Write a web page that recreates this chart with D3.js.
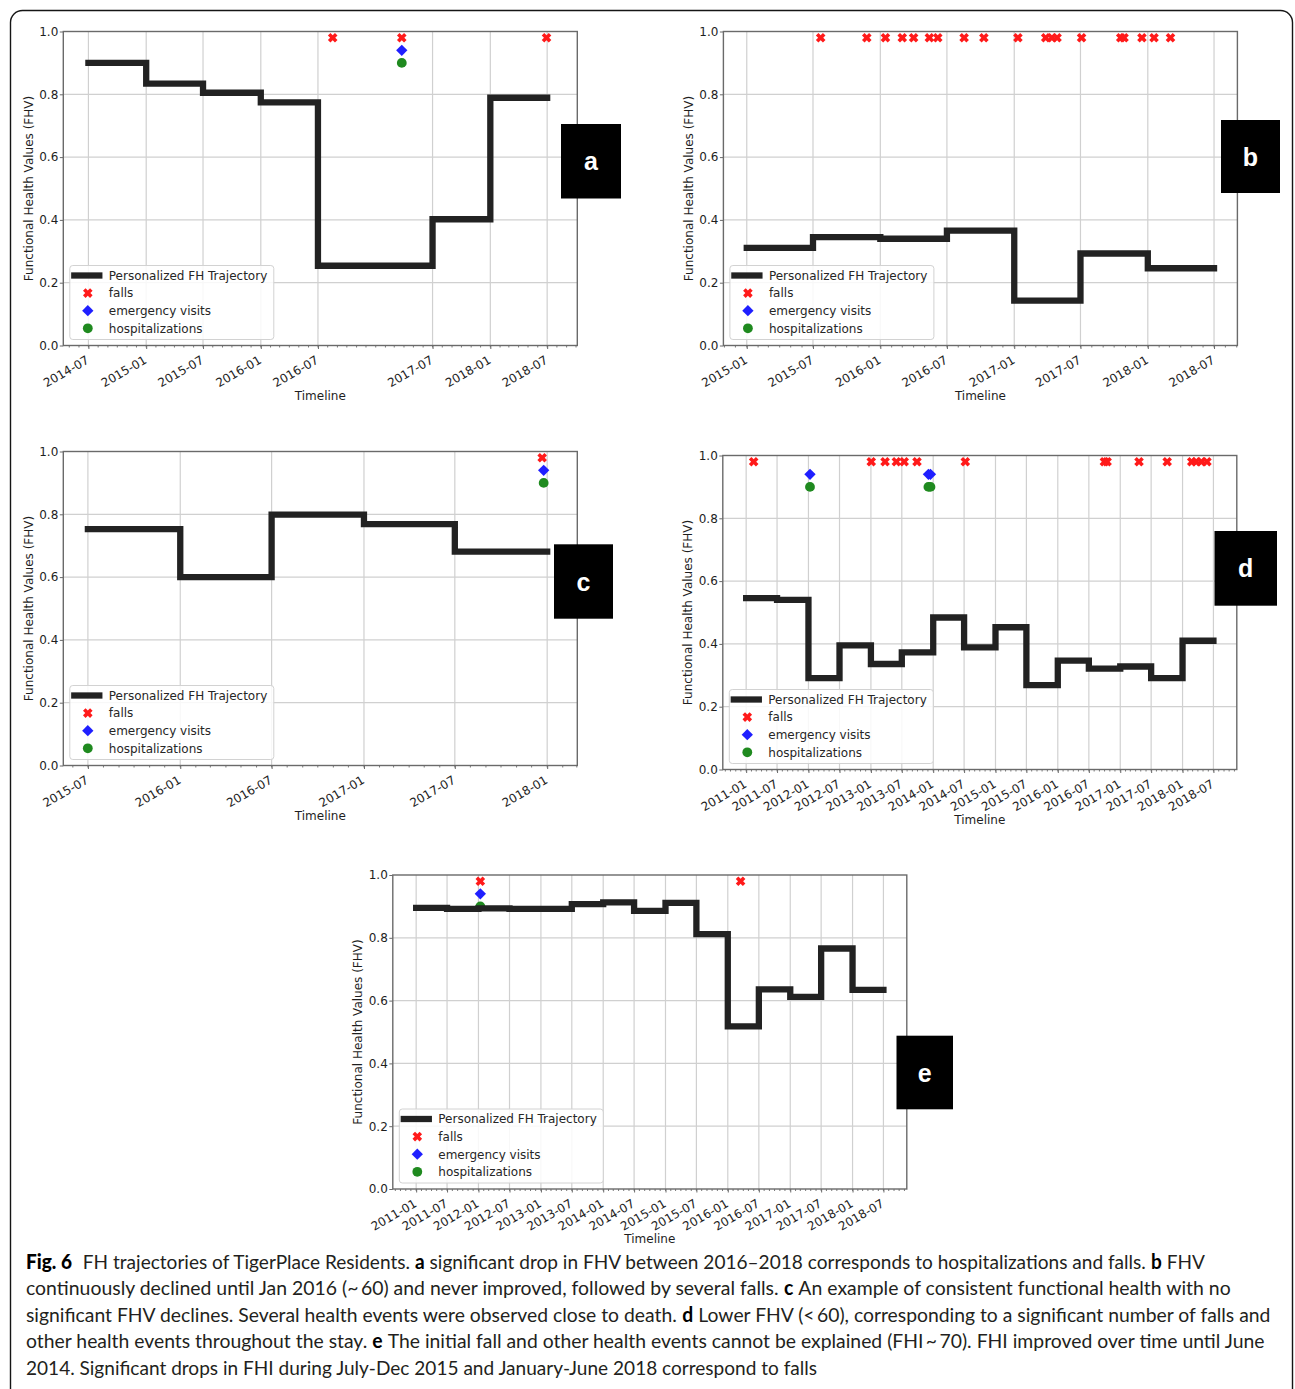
<!DOCTYPE html>
<html>
<head>
<meta charset="utf-8">
<script src="https://cdn.jsdelivr.net/npm/d3@7"></script>
<style>
  html, body { margin: 0; padding: 0; background: #fff; }
  svg { display: block; }
</style>
</head>
<body>
<svg id="fig" width="1295" height="1389"></svg>
<script>
// ---------------- data ----------------
// Panel a
const aStepDates = ["2014-07-01","2015-01-01","2015-07-01","2016-01-01","2016-07-01","2017-07-01","2018-01-01","2018-07-01"];
const aFHV       = [0.900, 0.834, 0.805, 0.774, 0.254, 0.402, 0.789, 0.789];
const aFalls     = ["2016-08-17","2017-03-25","2018-06-29"];
const aEmergency = ["2017-03-25"];
const aHospital  = ["2017-03-25"];
const aTicks     = ["2014-07","2015-01","2015-07","2016-01","2016-07","2017-07","2018-01","2018-07"];

// Panel b
const bStepDates = ["2015-01-01","2015-07-01","2016-01-01","2016-07-01","2017-01-01","2017-07-01","2018-01-01","2018-07-01"];
const bFHV       = [0.311, 0.345, 0.340, 0.366, 0.143, 0.293, 0.246, 0.246];
const bFalls     = ["2015-07-22","2015-11-25","2016-01-15","2016-03-01","2016-04-01","2016-05-14","2016-06-06",
                    "2016-08-17","2016-10-10","2017-01-11","2017-03-28","2017-04-14","2017-04-28","2017-07-04",
                    "2017-10-19","2017-10-28","2017-12-16","2018-01-18","2018-03-04"];
const bEmergency = [];
const bHospital  = [];
const bTicks     = ["2015-01","2015-07","2016-01","2016-07","2017-01","2017-07","2018-01","2018-07"];

// Panel c
const cStepDates = ["2015-07-01","2016-01-01","2016-07-01","2017-01-01","2017-07-01","2018-01-01"];
const cFHV       = [0.753, 0.600, 0.799, 0.769, 0.681, 0.681];
const cFalls     = ["2017-12-22"];
const cEmergency = ["2017-12-25"];
const cHospital  = ["2017-12-25"];
const cTicks     = ["2015-07","2016-01","2016-07","2017-01","2017-07","2018-01"];

// Panel d
const dStepDates = ["2011-01-01","2011-07-01","2012-01-01","2012-07-01","2013-01-01","2013-07-01","2014-01-01","2014-07-01",
                    "2015-01-01","2015-07-01","2016-01-01","2016-07-01","2017-01-01","2017-07-01","2018-01-01","2018-07-01"];
const dFHV       = [0.546, 0.540, 0.291, 0.395, 0.336, 0.373, 0.484, 0.389, 0.453, 0.269, 0.347, 0.321, 0.328, 0.291, 0.410, 0.410];
const dFalls     = ["2011-02-14","2013-01-03","2013-03-25","2013-05-30","2013-07-15","2013-09-28","2014-07-08",
                    "2016-09-30","2016-10-16","2017-04-21","2017-10-03","2018-02-24","2018-03-21","2018-04-21","2018-05-24"];
const dEmergency = ["2012-01-10","2013-12-04","2013-12-16"];
const dHospital  = ["2012-01-10","2013-12-04","2013-12-16"];
const dTicks     = ["2011-01","2011-07","2012-01","2012-07","2013-01","2013-07","2014-01","2014-07",
                    "2015-01","2015-07","2016-01","2016-07","2017-01","2017-07","2018-01","2018-07"];

// Panel e
const eStepDates = dStepDates.slice();
const eFHV       = [0.895, 0.892, 0.894, 0.892, 0.892, 0.907, 0.913, 0.886, 0.911, 0.812, 0.518, 0.636, 0.612, 0.766, 0.634, 0.634];
const eFalls     = ["2012-01-12","2016-03-16"];
const eEmergency = ["2012-01-12"];
const eHospital  = ["2012-01-12"];
const eTicks     = dTicks.slice();

// event rows drawn near the top of each axes: falls, emergency visits, hospitalizations
const eventLevels  = [0.98, 0.94, 0.90];
const yTickValues  = [0.0, 0.2, 0.4, 0.6, 0.8, 1.0];
const legendLabels = ["Personalized FH Trajectory", "falls", "emergency visits", "hospitalizations"];

// caption, one entry per printed line: runs of [text, style], separated by word spaces
const captionLines = [
  [["Fig. 6", "fig"], ["FH trajectories of TigerPlace Residents.", ""], ["a", "b"],
   ["significant drop in FHV between 2016\u20132018 corresponds to hospitalizations and falls.", ""], ["b", "b"], ["FHV", ""]],
  [["continuously declined until Jan 2016 (~\u200960) and never improved, followed by several falls.", ""], ["c", "b"],
   ["An example of consistent functional health with no", ""]],
  [["significant FHV declines. Several health events were observed close to death.", ""], ["d", "b"],
   ["Lower FHV (<\u200960), corresponding to a significant number of falls and", ""]],
  [["other health events throughout the stay.", ""], ["e", "b"],
   ["The initial fall and other health events cannot be explained (FHI\u2009~\u200970). FHI improved over time until June", ""]],
  [["2014. Significant drops in FHI during July-Dec 2015 and January-June 2018 correspond to falls", ""]]
];

// ---------------- layout ----------------
// xDomain (optional) fixes the visible time window; otherwise the data extent gets a 5% margin.
const panels = [
  { letter: "a", steps: aStepDates, fhv: aFHV, falls: aFalls, er: aEmergency, hosp: aHospital, ticks: aTicks,
    xDomain: ["2014-04-12", "2018-10-05"],
    frame: { left: 63.3, top: 31.5, width: 514, height: 314 }, box: { x: 561, y: 124, w: 60, h: 74.5 } },
  { letter: "b", steps: bStepDates, fhv: bFHV, falls: bFalls, er: bEmergency, hosp: bHospital, ticks: bTicks,
    frame: { left: 723.4, top: 31.5, width: 514, height: 314 }, box: { x: 1221, y: 120, w: 59, h: 73 } },
  { letter: "c", steps: cStepDates, fhv: cFHV, falls: cFalls, er: cEmergency, hosp: cHospital, ticks: cTicks,
    xDomain: ["2015-05-13", "2018-03-02"],
    frame: { left: 63.3, top: 451.5, width: 514, height: 314 }, box: { x: 554, y: 544.3, w: 59, h: 74.4 } },
  { letter: "d", steps: dStepDates, fhv: dFHV, falls: dFalls, er: dEmergency, hosp: dHospital, ticks: dTicks,
    frame: { left: 722.8, top: 455.5, width: 514, height: 314 }, box: { x: 1214.5, y: 531, w: 62.5, h: 74.7 } },
  { letter: "e", steps: eStepDates, fhv: eFHV, falls: eFalls, er: eEmergency, hosp: eHospital, ticks: eTicks,
    frame: { left: 392.8, top: 875, width: 514, height: 314 }, box: { x: 896.5, y: 1035.7, w: 56.5, h: 73.6 } }
];

const COLORS = { line: "#222222", fall: "#ff1a1a", er: "#1f1fff", hosp: "#1f8a1f",
                 grid: "#d0d0d0", spine: "#6a6a6a", text: "#1e1e1e" };
const FONT = "'DejaVu Sans', sans-serif";

const parseDay   = d3.utcParse("%Y-%m-%d");
const parseMonth = d3.utcParse("%Y-%m");
const fmtMonth   = d3.utcFormat("%Y-%m");

const svg = d3.select("#fig");

// outer rounded frame (open at the bottom, runs past the page)
svg.append("path")
  .attr("d", "M10.5,1420 V22.5 A12,12 0 0 1 22.5,10.5 H1280.5 A12,12 0 0 1 1292.5,22.5 V1420")
  .attr("fill", "none").attr("stroke", "#151515").attr("stroke-width", 1.4);

// filled "X" marker: a plus sign with thick arms, turned 45 degrees
function filledX(L, h) {
  const p = [[-h,-L],[h,-L],[h,-h],[L,-h],[L,h],[h,h],[h,L],[-h,L],[-h,h],[-L,h],[-L,-h],[-h,-h]];
  return "M" + p.map(q => q.join(",")).join("L") + "Z";
}
const fallSym = filledX(5.0, 1.8);
const erSym   = d3.symbol().type(d3.symbolSquare).size(64)();
const hospR   = 4.9;

function drawFall(sel, cx, cy) {
  sel.append("path").attr("d", fallSym)
    .attr("transform", `translate(${cx},${cy}) rotate(45)`).attr("fill", COLORS.fall);
}
function drawER(sel, cx, cy) {
  sel.append("path").attr("d", erSym)
    .attr("transform", `translate(${cx},${cy}) rotate(45)`).attr("fill", COLORS.er);
}
function drawHosp(sel, cx, cy) {
  sel.append("circle").attr("cx", cx).attr("cy", cy).attr("r", hospR).attr("fill", COLORS.hosp);
}

function drawPanel(p) {
  const f = p.frame;
  const g = svg.append("g").attr("class", "panel-" + p.letter);

  const stepDates = p.steps.map(parseDay);
  const falls = p.falls.map(parseDay), er = p.er.map(parseDay), hosp = p.hosp.map(parseDay);
  let domain;
  if (p.xDomain) {
    domain = p.xDomain.map(parseDay);
  } else {
    const [t0, t1] = d3.extent(stepDates.concat(falls, er, hosp));
    const pad = (t1 - t0) * 0.05;
    domain = [new Date(+t0 - pad), new Date(+t1 + pad)];
  }
  const x = d3.scaleUtc().domain(domain).range([f.left, f.left + f.width]);
  const y = d3.scaleLinear().domain([0, 1]).range([f.top + f.height, f.top]);
  const ticks = p.ticks.map(parseMonth);
  const bottom = f.top + f.height;

  // grid
  const grid = g.append("g").attr("stroke", COLORS.grid).attr("stroke-width", 1.2);
  grid.selectAll("line.gx").data(ticks).join("line").attr("class", "gx")
    .attr("x1", d => x(d)).attr("x2", d => x(d)).attr("y1", f.top).attr("y2", bottom);
  grid.selectAll("line.gy").data(yTickValues.slice(1, -1)).join("line").attr("class", "gy")
    .attr("y1", d => y(d)).attr("y2", d => y(d)).attr("x1", f.left).attr("x2", f.left + f.width);

  // event markers (drawn under the trajectory line)
  const ev = g.append("g");
  falls.forEach(d => drawFall(ev, x(d), y(eventLevels[0])));
  er.forEach(d => drawER(ev, x(d), y(eventLevels[1])));
  hosp.forEach(d => drawHosp(ev, x(d), y(eventLevels[2])));

  // functional-health step trajectory
  const pts = stepDates.map((d, i) => ({ date: d, v: p.fhv[i] }));
  g.append("path").datum(pts)
    .attr("d", d3.line().x(d => x(d.date)).y(d => y(d.v)).curve(d3.curveStepAfter))
    .attr("fill", "none").attr("stroke", COLORS.line).attr("stroke-width", 6.3)
    .attr("stroke-linecap", "square").attr("stroke-linejoin", "miter");

  // minor (monthly) ticks
  const minor = d3.utcMonth.range(x.domain()[0], x.domain()[1]);
  g.append("g").attr("stroke", COLORS.spine).attr("stroke-width", 0.9)
    .selectAll("line").data(minor).join("line")
    .attr("x1", d => x(d)).attr("x2", d => x(d)).attr("y1", bottom).attr("y2", bottom + 2);

  // x axis
  const xa = g.append("g").attr("transform", `translate(0,${bottom})`)
    .call(d3.axisBottom(x).tickValues(ticks).tickFormat(fmtMonth).tickSize(3.5).tickSizeOuter(0));
  xa.select(".domain").remove();
  xa.selectAll(".tick line").attr("stroke", COLORS.spine).attr("stroke-width", 1);
  xa.selectAll(".tick text")
    .attr("y", null).attr("dy", null)
    .attr("transform", "translate(1,17) rotate(-30)")
    .attr("text-anchor", "end")
    .attr("font-family", FONT).attr("font-size", 12).attr("fill", COLORS.text);

  // y axis
  const ya = g.append("g").attr("transform", `translate(${f.left},0)`)
    .call(d3.axisLeft(y).tickValues(yTickValues).tickFormat(d3.format(".1f")).tickSize(3.5).tickPadding(1.5).tickSizeOuter(0));
  ya.select(".domain").remove();
  ya.selectAll(".tick line").attr("stroke", COLORS.spine).attr("stroke-width", 1);
  ya.selectAll(".tick text").attr("font-family", FONT).attr("font-size", 12).attr("fill", COLORS.text);

  // spines
  g.append("rect").attr("x", f.left).attr("y", f.top).attr("width", f.width).attr("height", f.height)
    .attr("fill", "none").attr("stroke", COLORS.spine).attr("stroke-width", 1.4);

  // axis titles
  g.append("text").attr("x", f.left + f.width / 2).attr("y", bottom + 54)
    .attr("text-anchor", "middle").attr("font-family", FONT).attr("font-size", 12).attr("fill", COLORS.text)
    .text("Timeline");
  g.append("text")
    .attr("transform", `translate(${f.left - 30.5},${f.top + f.height / 2}) rotate(-90)`)
    .attr("text-anchor", "middle").attr("font-family", FONT).attr("font-size", 12).attr("fill", COLORS.text)
    .text("Functional Health Values (FHV)");

  // legend (lower left)
  const lw = 204, lh = 74;
  const lg = g.append("g").attr("transform", `translate(${f.left + 6.5},${bottom - 6 - lh})`);
  lg.append("rect").attr("width", lw).attr("height", lh).attr("rx", 3)
    .attr("fill", "#fff").attr("fill-opacity", 0.85).attr("stroke", "#d2d2d2").attr("stroke-width", 1);
  const rowY = [10, 27.6, 45.2, 62.8];
  lg.append("line").attr("x1", 4.5).attr("x2", 29.5).attr("y1", rowY[0]).attr("y2", rowY[0])
    .attr("stroke", COLORS.line).attr("stroke-width", 6.3).attr("stroke-linecap", "square");
  drawFall(lg, 18, rowY[1]);
  drawER(lg, 18, rowY[2]);
  drawHosp(lg, 18, rowY[3]);
  lg.selectAll("text").data(legendLabels).join("text")
    .attr("x", 39).attr("y", (d, i) => rowY[i]).attr("dy", "0.36em")
    .attr("font-family", FONT).attr("font-size", 12).attr("fill", "#262626")
    .text(d => d);

  // panel letter tag
  const b = p.box;
  svg.append("rect").attr("x", b.x).attr("y", b.y).attr("width", b.w).attr("height", b.h).attr("fill", "#000");
  svg.append("text").attr("x", b.x + b.w / 2).attr("y", b.y + b.h / 2).attr("dy", "0.36em")
    .attr("text-anchor", "middle").attr("font-family", "'Liberation Sans', Arial, sans-serif")
    .attr("font-weight", "bold").attr("font-size", 25).attr("fill", "#fff").text(p.letter);
}

panels.forEach(drawPanel);

// caption: each styled run is its own text element; runs are laid out left to right with
// word gaps, and each line is narrowed horizontally so it spans its measure
const capLayout = { x: 26, y0: 1268.5, step: 26.5, ends: [1205, 1231, 1271, 1265, 818] };
const capG = svg.append("g").attr("font-family", "Lato, 'Open Sans', sans-serif").attr("font-size", 20);
const probe = capG.append("text").text("x x");
const probe2 = capG.append("text").text("xx");
const spaceW = probe.node().getComputedTextLength() - probe2.node().getComputedTextLength();
probe.remove(); probe2.remove();

captionLines.forEach((parts, i) => {
  const yy = capLayout.y0 + i * capLayout.step;
  const lineG = capG.append("g");
  const runs = parts.map(([txt, style]) => {
    const t = lineG.append("text").attr("y", 0).text(txt)
      .attr("fill", style ? "#000" : "#231f20");
    if (style === "b") t.attr("font-weight", "bold");
    if (style === "fig") t.attr("font-weight", "900");
    return t;
  });
  const widths = runs.map(t => t.node().getComputedTextLength());
  // wider gap after the figure number
  const gaps = parts.slice(1).map((_, j) => (parts[j][1] === "fig" ? 2.2 : 1) * spaceW);
  const k = (capLayout.ends[i] - capLayout.x) / (d3.sum(widths) + d3.sum(gaps));
  let cx = 0;
  runs.forEach((t, j) => {
    t.attr("x", cx);
    cx += widths[j] + (j < gaps.length ? gaps[j] : 0);
  });
  lineG.attr("transform", `translate(${capLayout.x},${yy}) scale(${k},1)`);
});
</script>
</body>
</html>
